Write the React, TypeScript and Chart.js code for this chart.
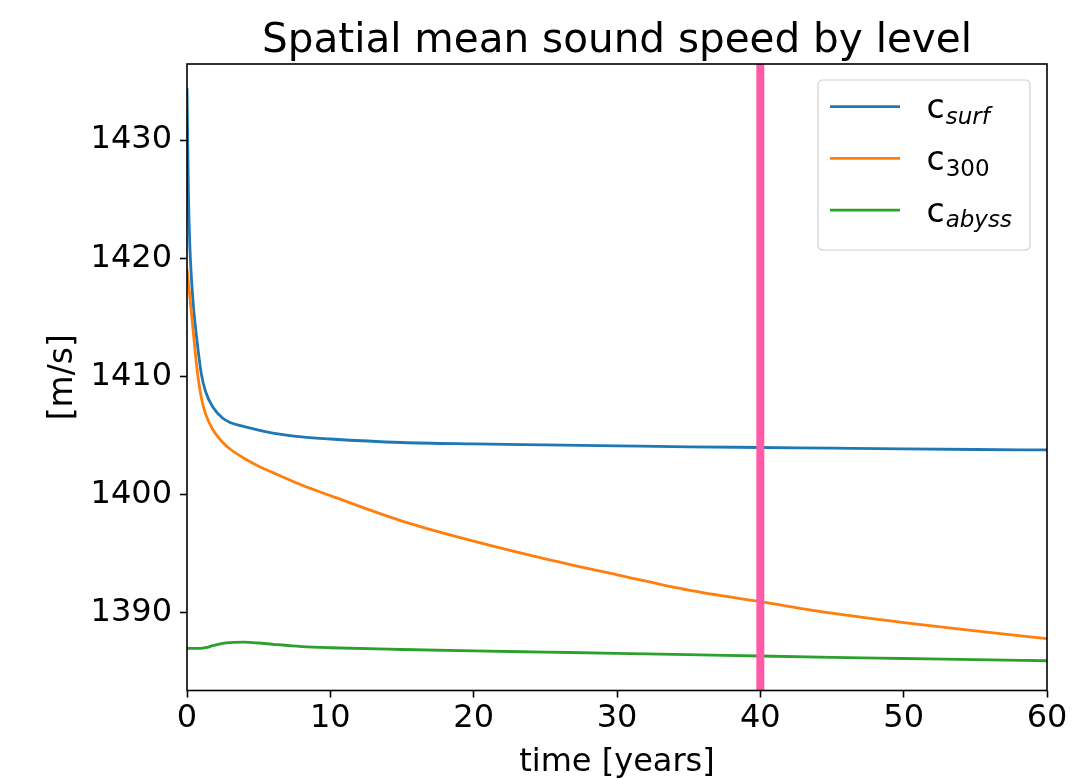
import React, { useEffect, useRef } from "react";
import { Chart, registerables } from "chart.js";

Chart.register(...registerables);

const chartTitle = "Spatial mean sound speed by level";
const xAxisTitle = "time [years]";
const yAxisTitle = "[m/s]";

const years = [0, 0.1, 0.2, 0.3, 0.45, 0.7, 1, 1.3, 1.8, 2.5, 3, 4, 5, 6, 8, 10, 15, 20, 25, 30, 35, 40, 45, 50, 55, 60];

const cSurf = [1434.4, 1425.5, 1421.0, 1418.5, 1415.9, 1413.0, 1410.2, 1408.7, 1407.4, 1406.45, 1406.1, 1405.75, 1405.45, 1405.2, 1404.88, 1404.7, 1404.4, 1404.28, 1404.2, 1404.12, 1404.04, 1403.98, 1403.92, 1403.86, 1403.81, 1403.77];

const c300 = [1419.1, 1417.9, 1416.7, 1415.5, 1413.6, 1410.6, 1408.2, 1406.8, 1405.5, 1404.4, 1403.85, 1403.05, 1402.4, 1401.85, 1400.8, 1399.9, 1397.75, 1396.05, 1394.55, 1393.2, 1391.9, 1390.93, 1389.95, 1389.15, 1388.45, 1387.8];

const cAbyss = [1386.97, 1386.97, 1386.97, 1386.97, 1386.97, 1386.97, 1386.98, 1387.03, 1387.2, 1387.4, 1387.47, 1387.5, 1387.43, 1387.32, 1387.13, 1387.03, 1386.88, 1386.76, 1386.66, 1386.56, 1386.45, 1386.33, 1386.22, 1386.12, 1386.02, 1385.93];

const legendBase = ["c", "c", "c"];
const legendSub = ["surf", "300", "abyss"];
const legendSubItalic = [true, false, true];
const seriesColors = ["#1f77b4", "#ff7f0e", "#2ca02c"];

const markerYear = 40;
const markerColor = "#ff5aa8";

const xTicks = [0, 10, 20, 30, 40, 50, 60];
const yTicks = [1390, 1400, 1410, 1420, 1430];
const xMin = 0;
const xMax = 60;
const yMin = 1383.41;
const yMax = 1436.44;

const fontFamily = "'DejaVu Sans', sans-serif";

const decorPlugin = {
  id: "decor",
  afterDraw(chart: any) {
    const { ctx, chartArea: a } = chart;
    ctx.save();
    ctx.strokeStyle = "#000";
    ctx.lineWidth = 1.6;
    ctx.strokeRect(a.left, a.top, a.right - a.left, a.bottom - a.top);

    ctx.fillStyle = "#000";
    ctx.font = `40.5px ${fontFamily}`;
    ctx.textAlign = "center";
    ctx.textBaseline = "alphabetic";
    ctx.fillText(chartTitle, (a.left + a.right) / 2, a.top - 12);

    const bw = 212;
    const bh = 170;
    const bx = a.right - 17 - bw;
    const by = a.top + 16;
    const r = 5;
    ctx.beginPath();
    ctx.moveTo(bx + r, by);
    ctx.lineTo(bx + bw - r, by);
    ctx.quadraticCurveTo(bx + bw, by, bx + bw, by + r);
    ctx.lineTo(bx + bw, by + bh - r);
    ctx.quadraticCurveTo(bx + bw, by + bh, bx + bw - r, by + bh);
    ctx.lineTo(bx + r, by + bh);
    ctx.quadraticCurveTo(bx, by + bh, bx, by + bh - r);
    ctx.lineTo(bx, by + r);
    ctx.quadraticCurveTo(bx, by, bx + r, by);
    ctx.closePath();
    ctx.fillStyle = "rgba(255,255,255,0.8)";
    ctx.fill();
    ctx.strokeStyle = "#d0d0d0";
    ctx.lineWidth = 1.2;
    ctx.stroke();

    ctx.textAlign = "left";
    for (let i = 0; i < legendBase.length; i++) {
      const ly = by + 26.7 + i * 51.7;
      ctx.strokeStyle = seriesColors[i];
      ctx.lineWidth = 2.8;
      ctx.beginPath();
      ctx.moveTo(bx + 12, ly);
      ctx.lineTo(bx + 82, ly);
      ctx.stroke();

      const tx = bx + 108.5;
      const baseY = ly + 11.6;
      ctx.fillStyle = "#000";
      ctx.font = `33px ${fontFamily}`;
      ctx.fillText(legendBase[i], tx, baseY);
      const cw = ctx.measureText(legendBase[i]).width;
      ctx.font = `${legendSubItalic[i] ? "italic " : ""}23px ${fontFamily}`;
      ctx.fillText(legendSub[i], tx + cw + 1, baseY + 5.5);
    }
    ctx.restore();
  },
};

export default function App() {
  const canvasRef = useRef<HTMLCanvasElement | null>(null);

  useEffect(() => {
    if (!canvasRef.current) return;
    const mkSeries = (vals: number[]) => years.map((x, i) => ({ x, y: vals[i] }));
    const chart = new Chart(canvasRef.current, {
      type: "line",
      data: {
        datasets: [
          {
            label: "marker",
            data: [
              { x: markerYear, y: yMin },
              { x: markerYear, y: yMax },
            ],
            borderColor: markerColor,
            backgroundColor: markerColor,
            borderWidth: 8,
            pointRadius: 0,
            order: 0,
            clip: 0,
          } as any,
          {
            label: "c_surf",
            data: mkSeries(cSurf),
            borderColor: seriesColors[0],
            backgroundColor: seriesColors[0],
            borderWidth: 2.8,
            pointRadius: 0,
            cubicInterpolationMode: "monotone",
            order: 3,
          },
          {
            label: "c_300",
            data: mkSeries(c300),
            borderColor: seriesColors[1],
            backgroundColor: seriesColors[1],
            borderWidth: 2.8,
            pointRadius: 0,
            cubicInterpolationMode: "monotone",
            order: 2,
          },
          {
            label: "c_abyss",
            data: mkSeries(cAbyss),
            borderColor: seriesColors[2],
            backgroundColor: seriesColors[2],
            borderWidth: 2.8,
            pointRadius: 0,
            cubicInterpolationMode: "monotone",
            order: 1,
          },
        ],
      },
      options: {
        animation: false,
        responsive: false,
        maintainAspectRatio: false,
        events: [],
        layout: { padding: { top: 64, right: 30, bottom: 0, left: 0 } },
        plugins: {
          legend: { display: false },
          title: { display: false },
          tooltip: { enabled: false },
        },
        scales: {
          x: {
            type: "linear",
            min: xMin,
            max: xMax,
            afterFit: (scale: any) => {
              scale.height = 89.5;
            },
            afterBuildTicks: (scale: any) => {
              scale.ticks = xTicks.map((v) => ({ value: v }));
            },
            ticks: {
              color: "#000",
              font: { family: fontFamily, size: 32 },
              padding: 2,
              maxRotation: 0,
              autoSkip: false,
              callback: (v: any) => String(v),
            },
            grid: {
              drawOnChartArea: false,
              drawTicks: true,
              tickLength: 7,
              tickWidth: 1.6,
              tickColor: "#000",
            },
            border: { display: false },
            title: {
              display: true,
              text: xAxisTitle,
              color: "#000",
              font: { family: fontFamily, size: 32, lineHeight: 1 },
              padding: { top: 0, bottom: 1.5 },
            },
          },
          y: {
            type: "linear",
            min: yMin,
            max: yMax,
            afterFit: (scale: any) => {
              scale.width = 187;
            },
            afterBuildTicks: (scale: any) => {
              scale.ticks = yTicks.map((v) => ({ value: v }));
            },
            ticks: {
              color: "#000",
              font: { family: fontFamily, size: 32 },
              padding: 8,
              autoSkip: false,
              callback: (v: any) => String(v),
            },
            grid: {
              drawOnChartArea: false,
              drawTicks: true,
              tickLength: 7,
              tickWidth: 1.6,
              tickColor: "#000",
            },
            border: { display: false },
            title: {
              display: true,
              text: yAxisTitle,
              color: "#000",
              font: { family: fontFamily, size: 33 },
              padding: { top: 44, bottom: 0 },
            },
          },
        },
      },
      plugins: [decorPlugin],
    });
    return () => chart.destroy();
  }, []);

  return (
    <div style={{ position: "fixed", left: 0, top: 0, width: 1077, height: 780, background: "#fff" }}>
      <canvas ref={canvasRef} width={1077} height={780} style={{ display: "block", width: 1077, height: 780 }} />
    </div>
  );
}
